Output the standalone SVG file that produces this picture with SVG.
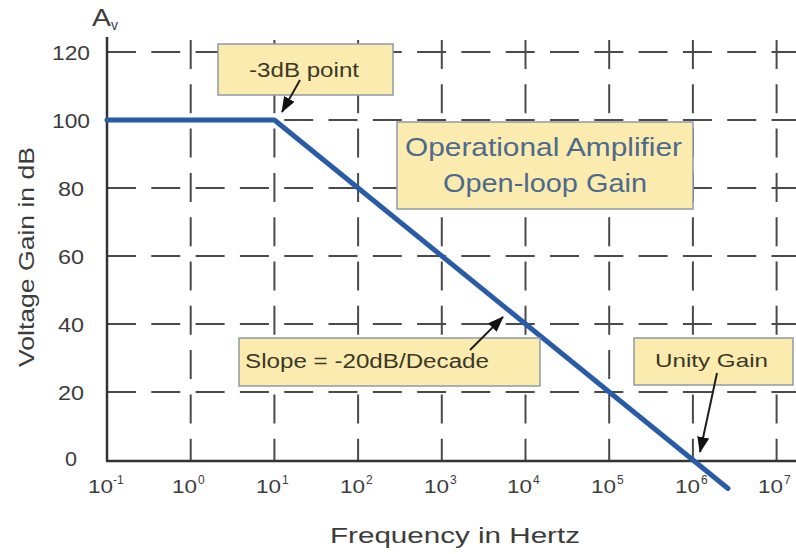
<svg xmlns="http://www.w3.org/2000/svg" width="796" height="554" viewBox="0 0 796 554">
<style>
.grid{stroke:#4a4a4a;stroke-width:2;stroke-dasharray:29 15.3;fill:none}
.axis{stroke:#333;stroke-width:2.5;fill:none}
.lbl{font-family:"Liberation Sans",Arial,sans-serif;fill:#3c3c3c}
.ytk{font-size:20px;text-anchor:middle}
.xb{font-size:19px}
.xs{font-size:12px}
.box{fill:#fcebae;stroke:#8e9ba4;stroke-width:1.5}
.btxt{font-family:"Liberation Sans",Arial,sans-serif;fill:#3a3826}
.otxt{font-family:"Liberation Sans",Arial,sans-serif;fill:#4d6a8c;font-size:26px}
.arr{stroke:#1e1e1e;stroke-width:2;fill:none;marker-end:url(#ah)}
.curve{stroke:#2a5ba6;stroke-width:5;fill:none;stroke-linejoin:round;stroke-linecap:round}
</style>
<defs>
<marker id="ah" viewBox="0 0 16 12" refX="15" refY="6" markerWidth="16" markerHeight="12" markerUnits="userSpaceOnUse" orient="auto">
<path d="M0,0 L16,6 L0,12 Z" fill="#111"/>
</marker>
</defs>
<rect width="796" height="554" fill="#fff"/>
<g id="grid">
<line class="grid" x1="107" y1="52" x2="796" y2="52"/>
<line class="grid" x1="107" y1="120" x2="796" y2="120"/>
<line class="grid" x1="107" y1="188" x2="796" y2="188"/>
<line class="grid" x1="107" y1="256" x2="796" y2="256"/>
<line class="grid" x1="107" y1="324" x2="796" y2="324"/>
<line class="grid" x1="107" y1="392" x2="796" y2="392"/>
<line class="grid" x1="190.7" y1="40" x2="190.7" y2="460"/>
<line class="grid" x1="274.4" y1="40" x2="274.4" y2="460"/>
<line class="grid" x1="358.1" y1="40" x2="358.1" y2="460"/>
<line class="grid" x1="441.8" y1="40" x2="441.8" y2="460"/>
<line class="grid" x1="525.5" y1="40" x2="525.5" y2="460"/>
<line class="grid" x1="609.2" y1="40" x2="609.2" y2="460"/>
<line class="grid" x1="692.9" y1="40" x2="692.9" y2="460"/>
<line class="grid" x1="776.6" y1="40" x2="776.6" y2="460"/>
</g>
<g id="axes">
<line class="axis" x1="107" y1="37" x2="107" y2="461"/>
<line class="axis" x1="106" y1="461" x2="796" y2="461"/>
</g>
<g id="y-labels" class="lbl">
<text class="ytk" x="71" y="59.5" textLength="38" lengthAdjust="spacingAndGlyphs">120</text>
<text class="ytk" x="71" y="127.5" textLength="38" lengthAdjust="spacingAndGlyphs">100</text>
<text class="ytk" x="71" y="195.5" textLength="26" lengthAdjust="spacingAndGlyphs">80</text>
<text class="ytk" x="71" y="263.5" textLength="26" lengthAdjust="spacingAndGlyphs">60</text>
<text class="ytk" x="71" y="331.5" textLength="26" lengthAdjust="spacingAndGlyphs">40</text>
<text class="ytk" x="71" y="399.5" textLength="26" lengthAdjust="spacingAndGlyphs">20</text>
<text class="ytk" x="71" y="466" textLength="12" lengthAdjust="spacingAndGlyphs">0</text>
</g>
<g id="x-labels" class="lbl">
<text class="xb" x="88" y="493" textLength="25" lengthAdjust="spacingAndGlyphs">10</text><text class="xs" x="113" y="484">-1</text>
<text class="xb" x="172" y="493" textLength="25" lengthAdjust="spacingAndGlyphs">10</text><text class="xs" x="198" y="484">0</text>
<text class="xb" x="256" y="493" textLength="25" lengthAdjust="spacingAndGlyphs">10</text><text class="xs" x="282" y="484">1</text>
<text class="xb" x="340" y="493" textLength="25" lengthAdjust="spacingAndGlyphs">10</text><text class="xs" x="366" y="484">2</text>
<text class="xb" x="424" y="493" textLength="25" lengthAdjust="spacingAndGlyphs">10</text><text class="xs" x="450" y="484">3</text>
<text class="xb" x="507" y="493" textLength="25" lengthAdjust="spacingAndGlyphs">10</text><text class="xs" x="533" y="484">4</text>
<text class="xb" x="591" y="493" textLength="25" lengthAdjust="spacingAndGlyphs">10</text><text class="xs" x="617" y="484">5</text>
<text class="xb" x="675" y="493" textLength="25" lengthAdjust="spacingAndGlyphs">10</text><text class="xs" x="701" y="484">6</text>
<text class="xb" x="758" y="493" textLength="25" lengthAdjust="spacingAndGlyphs">10</text><text class="xs" x="784" y="484">7</text>
</g>
<g id="axis-titles" class="lbl">
<text x="92" y="26" font-size="24" textLength="19" lengthAdjust="spacingAndGlyphs">A</text><text x="111" y="30" font-size="14">v</text>
<text x="455" y="543" font-size="22" text-anchor="middle" textLength="250" lengthAdjust="spacingAndGlyphs">Frequency in Hertz</text>
<text transform="translate(34,257) rotate(-90)" font-size="22" text-anchor="middle" textLength="220" lengthAdjust="spacingAndGlyphs">Voltage Gain in dB</text>
</g>
<g id="gain-curve">
<polyline class="curve" points="107,120 274.4,120 728,488.5"/>
</g>
<g id="node-3db">
<rect class="box" x="218" y="44" width="175" height="51"/>
<text class="btxt" x="249" y="77" font-size="20" textLength="110" lengthAdjust="spacingAndGlyphs">-3dB point</text>
</g>
<g id="node-title">
<rect class="box" x="397" y="122" width="296" height="87"/>
<text class="otxt" x="405" y="156" textLength="277" lengthAdjust="spacingAndGlyphs">Operational Amplifier</text>
<text class="otxt" x="443" y="192" textLength="204" lengthAdjust="spacingAndGlyphs">Open-loop Gain</text>
</g>
<g id="node-slope">
<rect class="box" x="239" y="338" width="301" height="48"/>
<text class="btxt" x="245" y="368" font-size="20" textLength="244" lengthAdjust="spacingAndGlyphs">Slope = -20dB/Decade</text>
</g>
<g id="node-unity">
<rect class="box" x="634" y="338" width="159" height="47"/>
<text class="btxt" x="655" y="367" font-size="19" textLength="113" lengthAdjust="spacingAndGlyphs">Unity Gain</text>
</g>
<g id="connectors">
<line class="arr" x1="300" y1="80" x2="282" y2="112"/>
<line class="arr" x1="470" y1="350" x2="503" y2="317"/>
<line class="arr" x1="717" y1="373" x2="700" y2="452"/>
</g>
</svg>
